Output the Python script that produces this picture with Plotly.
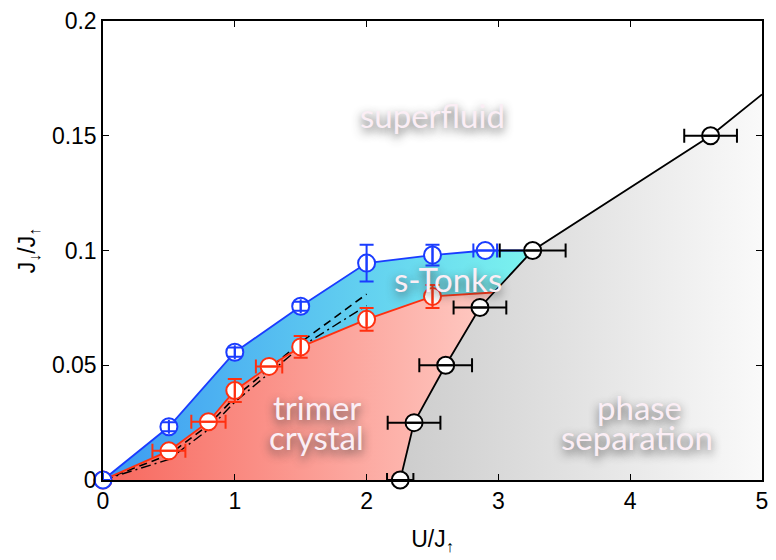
import plotly.graph_objects as go

# ---- data ----
blue_x = [0, 0.5, 1.0, 1.5, 2.0, 2.5, 2.9]
blue_y = [0, 0.0232, 0.0557, 0.0757, 0.0945, 0.098, 0.100]
blue_ey = [0, 0.002, 0.002, 0.002, 0.008, 0.0045, 0]
blue_ex = [0, 0, 0, 0, 0, 0, 0.09]

red_x = [0, 0.5, 0.80, 1.0, 1.26, 1.5, 2.0, 2.5]
red_y = [0, 0.0127, 0.0254, 0.039, 0.0495, 0.058, 0.070, 0.080]
red_ey = [0, 0, 0, 0.005, 0, 0.0047, 0.005, 0.005]
red_ex = [0, 0.125, 0.13, 0, 0.1, 0, 0, 0]
red_end = [2.96, 0.0817]

black_x = [2.255, 2.36, 2.6, 2.86, 3.26, 4.61]
black_y = [0.0, 0.025, 0.05, 0.0752, 0.100, 0.150]
black_ex = [0.1, 0.2, 0.2, 0.2, 0.25, 0.2]
black_end = [5.0, 0.168]

dash_x = [0, 0.5, 0.8, 1.0, 1.5, 2.0]
dash1_y = [0, 0.011, 0.024, 0.036, 0.060, 0.081]
dash2_y = [0, 0.009, 0.022, 0.034, 0.058, 0.076]

x_ticks = [0, 1, 2, 3, 4, 5]
y_ticks = [0, 0.05, 0.1, 0.15, 0.2]
y_ticklabels = ["0", "0.05", "0.1", "0.15", "0.2"]

labels = [
    ("superfluid", 2.5, 0.159),
    ("s-Tonks", 2.62, 0.0875),
    ("trimer", 1.62, 0.0318),
    ("crystal", 1.62, 0.0188),
    ("phase", 4.07, 0.0318),
    ("separation", 4.05, 0.0188),
]

# ---- build region polygons from the data ----
blk_low_x = black_x[:4]
blk_low_y = black_y[:4]

red_poly_x = red_x + [red_end[0]] + blk_low_x[::-1] + [red_x[0]]
red_poly_y = red_y + [red_end[1]] + blk_low_y[::-1] + [red_y[0]]

blue_poly_x = blue_x + [black_x[4], red_end[0]] + red_x[::-1]
blue_poly_y = blue_y + [black_y[4], red_end[1]] + red_y[::-1]

gray_poly_x = black_x + [black_end[0], black_end[0], black_x[0]]
gray_poly_y = black_y + [black_end[1], 0, black_y[0]]

BLUE = "#1a3cff"
RED = "#ff3010"

fig = go.Figure()

fig.add_trace(go.Scatter(
    x=red_poly_x, y=red_poly_y, mode="none", fill="toself",
    fillgradient=dict(type="horizontal", start=0, stop=3.0,
                      colorscale=[[0, "#f7675d"], [1, "#ffcdc6"]]),
    hoverinfo="skip", showlegend=False))
fig.add_trace(go.Scatter(
    x=blue_poly_x, y=blue_poly_y, mode="none", fill="toself",
    fillgradient=dict(type="horizontal", start=0, stop=3.26,
                      colorscale=[[0, "#3c9af2"], [1, "#7cf4ee"]]),
    hoverinfo="skip", showlegend=False))
fig.add_trace(go.Scatter(
    x=gray_poly_x, y=gray_poly_y, mode="none", fill="toself",
    fillgradient=dict(type="horizontal", start=2.25, stop=5.0,
                      colorscale=[[0, "#cdcdcd"], [1, "#fafafa"]]),
    hoverinfo="skip", showlegend=False))

# dashed guides
fig.add_trace(go.Scatter(x=dash_x, y=dash1_y, mode="lines",
                         line=dict(color="black", width=1.6, dash="8px,5px"),
                         showlegend=False, hoverinfo="skip"))
fig.add_trace(go.Scatter(x=dash_x, y=dash2_y, mode="lines",
                         line=dict(color="black", width=1.4, dash="10px,4px,2px,4px"),
                         showlegend=False, hoverinfo="skip"))

# boundary lines
fig.add_trace(go.Scatter(x=blue_x + [black_x[4]], y=blue_y + [black_y[4]], mode="lines",
                         line=dict(color=BLUE, width=1.8), showlegend=False))
fig.add_trace(go.Scatter(x=red_x + [red_end[0]], y=red_y + [red_end[1]], mode="lines",
                         line=dict(color=RED, width=1.8), showlegend=False))
fig.add_trace(go.Scatter(x=black_x + [black_end[0]], y=black_y + [black_end[1]], mode="lines",
                         line=dict(color="black", width=1.8), showlegend=False))

# markers
for xs, ys, col in [(red_x, red_y, RED), (blue_x, blue_y, BLUE),
                    (black_x, black_y, "black")]:
    fig.add_trace(go.Scatter(x=xs, y=ys, mode="markers", cliponaxis=False,
                             marker=dict(size=17, color="white",
                                         line=dict(width=2, color=col)),
                             showlegend=False))

# error bars drawn on top
def eb(xs, ys, ex, ey, col):
    return go.Scatter(
        x=xs, y=ys, mode="markers", cliponaxis=False,
        marker=dict(size=1, color="rgba(0,0,0,0)"),
        error_x=dict(type="data", array=ex, visible=True, color=col,
                     thickness=2, width=7),
        error_y=dict(type="data", array=ey, visible=True, color=col,
                     thickness=2, width=7),
        showlegend=False, hoverinfo="skip")

fig.add_trace(eb(red_x, red_y, red_ex, red_ey, RED))
fig.add_trace(eb(blue_x, blue_y, blue_ex, blue_ey, BLUE))
fig.add_trace(eb(black_x, black_y, black_ex, [0] * len(black_x), "black"))

for txt, x, y in labels:
    fig.add_annotation(x=x, y=y, text=txt, showarrow=False,
                       font=dict(family="Lato", size=33, color="#fbeef5",
                                 shadow="0px 4px 10px rgba(60,60,60,0.85)"),
                       align="center")

axis_common = dict(showline=True, mirror="ticks", linecolor="black", linewidth=1.5,
                   ticks="inside", ticklen=6, tickcolor="black", tickwidth=1,
                   showgrid=False, zeroline=False,
                   tickfont=dict(family="Liberation Sans", size=23, color="black"))

fig.update_layout(
    width=776, height=560,
    margin=dict(l=103, r=8, t=20, b=80),
    paper_bgcolor="white", plot_bgcolor="white",
    xaxis=dict(range=[0, 5], tickvals=x_ticks, ticktext=[str(v) for v in x_ticks],
               title=dict(text="U/J<sub>↑</sub>", standoff=18,
                          font=dict(family="Liberation Sans", size=23, color="black")),
               **axis_common),
    yaxis=dict(range=[0, 0.2], tickvals=y_ticks, ticktext=y_ticklabels,
               title=dict(text="J<sub>↓</sub>/J<sub>↑</sub>", standoff=10,
                          font=dict(family="Liberation Sans", size=23, color="black")),
               **axis_common),
)

# remove the default page margin so the figure sits at the window's top-left corner
fig.write_html("out.html", config={"displayModeBar": False},
               post_script="document.body.style.margin='0';document.body.style.overflow='hidden';")
